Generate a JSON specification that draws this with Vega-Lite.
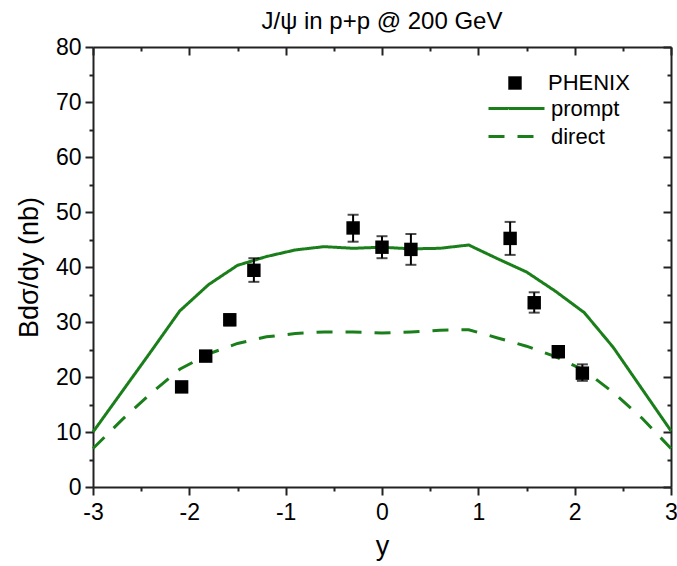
{
  "$schema": "https://vega.github.io/schema/vega-lite/v6.json",
  "width": 578,
  "height": 440,
  "autosize": {"type": "none"},
  "padding": {"left": 93, "top": 47, "right": 6, "bottom": 79},
  "background": "white",
  "config": {"view": {"stroke": null}, "font": "Liberation Sans"},
  "title": {"text": "J/ψ in p+p @ 200 GeV", "fontSize": 24, "fontWeight": "normal", "font": "Liberation Sans", "color": "black", "anchor": "middle", "offset": 2},
  "datasets": {
    "models": [
      {"model": "prompt", "rap": -3, "val": 10},
      {"model": "prompt", "rap": -2.7, "val": 17.3},
      {"model": "prompt", "rap": -2.4, "val": 24.6},
      {"model": "prompt", "rap": -2.1, "val": 32},
      {"model": "prompt", "rap": -1.8, "val": 36.8},
      {"model": "prompt", "rap": -1.5, "val": 40.3},
      {"model": "prompt", "rap": -1.2, "val": 41.9},
      {"model": "prompt", "rap": -0.9, "val": 43.1},
      {"model": "prompt", "rap": -0.6, "val": 43.7},
      {"model": "prompt", "rap": -0.3, "val": 43.4},
      {"model": "prompt", "rap": 0, "val": 43.6},
      {"model": "prompt", "rap": 0.3, "val": 43.3},
      {"model": "prompt", "rap": 0.6, "val": 43.4},
      {"model": "prompt", "rap": 0.9, "val": 44},
      {"model": "prompt", "rap": 1.2, "val": 41.5},
      {"model": "prompt", "rap": 1.5, "val": 39.1},
      {"model": "prompt", "rap": 1.8, "val": 35.6},
      {"model": "prompt", "rap": 2.1, "val": 31.7},
      {"model": "prompt", "rap": 2.4, "val": 25.4},
      {"model": "prompt", "rap": 2.7, "val": 17.8},
      {"model": "prompt", "rap": 3, "val": 10.2},
      {"model": "direct", "rap": -3, "val": 7},
      {"model": "direct", "rap": -2.7, "val": 12.2},
      {"model": "direct", "rap": -2.4, "val": 17},
      {"model": "direct", "rap": -2.1, "val": 21.4},
      {"model": "direct", "rap": -1.8, "val": 24.2},
      {"model": "direct", "rap": -1.5, "val": 26.1},
      {"model": "direct", "rap": -1.2, "val": 27.3},
      {"model": "direct", "rap": -0.9, "val": 27.9},
      {"model": "direct", "rap": -0.6, "val": 28.2},
      {"model": "direct", "rap": -0.3, "val": 28.2},
      {"model": "direct", "rap": 0, "val": 28},
      {"model": "direct", "rap": 0.3, "val": 28.2},
      {"model": "direct", "rap": 0.6, "val": 28.5},
      {"model": "direct", "rap": 0.9, "val": 28.6},
      {"model": "direct", "rap": 1.2, "val": 27.1},
      {"model": "direct", "rap": 1.5, "val": 25.6},
      {"model": "direct", "rap": 1.8, "val": 23.7},
      {"model": "direct", "rap": 2.1, "val": 21.2},
      {"model": "direct", "rap": 2.4, "val": 17.2},
      {"model": "direct", "rap": 2.7, "val": 12.5},
      {"model": "direct", "rap": 3, "val": 7}
    ],
    "phenix": [
      {"obs": "PHENIX", "rap": -2.08, "val": 18.2, "lo": 17.4, "hi": 19.0},
      {"obs": "PHENIX", "rap": -1.83, "val": 23.8, "lo": 22.9, "hi": 24.7},
      {"obs": "PHENIX", "rap": -1.58, "val": 30.4, "lo": 29.4, "hi": 31.4},
      {"obs": "PHENIX", "rap": -1.33, "val": 39.4, "lo": 37.3, "hi": 41.6},
      {"obs": "PHENIX", "rap": -0.3, "val": 47.1, "lo": 44.6, "hi": 49.5},
      {"obs": "PHENIX", "rap": 0, "val": 43.6, "lo": 41.6, "hi": 45.6},
      {"obs": "PHENIX", "rap": 0.3, "val": 43.2, "lo": 40.4, "hi": 46.0},
      {"obs": "PHENIX", "rap": 1.33, "val": 45.2, "lo": 42.2, "hi": 48.2},
      {"obs": "PHENIX", "rap": 1.58, "val": 33.5, "lo": 31.7, "hi": 35.4},
      {"obs": "PHENIX", "rap": 1.83, "val": 24.6, "lo": 23.6, "hi": 25.6},
      {"obs": "PHENIX", "rap": 2.08, "val": 20.7, "lo": 19.3, "hi": 22.3}
    ]
  },
  "layer": [
    {
      "data": {"name": "models"},
      "mark": {"type": "line", "strokeWidth": 3, "color": "#1a7f1a"},
      "encoding": {
        "x": {
          "field": "rap", "type": "quantitative",
          "scale": {"domain": [-3, 3], "nice": false, "zero": false},
          "axis": {
            "orient": "bottom", "grid": false,
            "values": [-3, -2.5, -2, -1.5, -1, -0.5, 0, 0.5, 1, 1.5, 2, 2.5, 3],
            "labelExpr": "datum.value % 1 === 0 ? '' + datum.value : ''",
            "tickSize": {"condition": {"test": "datum.value % 1 === 0", "value": 8}, "value": 4},
            "tickWidth": 2, "tickColor": "#222", "domainColor": "#222", "domainWidth": 2,
            "labelFontSize": 23, "labelFont": "Liberation Sans", "labelColor": "black", "labelPadding": 6, "labelFlush": false, "labelOverlap": false,
            "title": "y", "titleFontSize": 27, "titleFontWeight": "normal", "titleFont": "Liberation Sans", "titleColor": "black", "titlePadding": 9
          }
        },
        "y": {
          "field": "val", "type": "quantitative",
          "scale": {"domain": [0, 80], "nice": false},
          "axis": {
            "orient": "left", "grid": false,
            "values": [0, 5, 10, 15, 20, 25, 30, 35, 40, 45, 50, 55, 60, 65, 70, 75, 80],
            "labelExpr": "datum.value % 10 === 0 ? '' + datum.value : ''",
            "tickSize": {"condition": {"test": "datum.value % 10 === 0", "value": 8}, "value": 4},
            "tickWidth": 2, "tickColor": "#222", "domainColor": "#222", "domainWidth": 2,
            "labelFontSize": 23, "labelFont": "Liberation Sans", "labelColor": "black", "labelPadding": 4, "labelFlush": false, "labelOverlap": false,
            "title": "Bdσ/dy (nb)", "titleFontSize": 27, "titleFontWeight": "normal", "titleFont": "Liberation Sans", "titleColor": "black", "titlePadding": 12
          }
        },
        "strokeDash": {
          "field": "model", "type": "nominal",
          "scale": {"domain": ["prompt", "direct"], "range": [[1, 0], [16, 13]]},
          "legend": {
            "orient": "none", "legendX": 408, "legendY": 46, "title": null, "padding": 0,
            "symbolType": "M-2,0H2", "symbolSize": 784, "symbolStrokeColor": "#1a7f1a", "symbolStrokeWidth": 3, "symbolFillColor": "transparent",
            "labelFontSize": 22, "labelFont": "Liberation Sans", "labelColor": "black", "labelOffset": 19, "rowPadding": 1
          }
        }
      }
    },
    {
      "data": {"name": "phenix"},
      "mark": {"type": "errorbar", "ticks": {"size": 11, "thickness": 2, "color": "black"}, "rule": {"strokeWidth": 2, "color": "black"}},
      "encoding": {
        "x": {"field": "rap", "type": "quantitative", "scale": {"domain": [-3, 3], "nice": false, "zero": false}, "axis": null},
        "y": {"field": "lo", "type": "quantitative", "scale": {"domain": [0, 80], "nice": false}, "axis": null},
        "y2": {"field": "hi"}
      }
    },
    {
      "data": {"name": "phenix"},
      "mark": {"type": "point", "shape": "square", "filled": true, "size": 180, "color": "black", "opacity": 1},
      "encoding": {
        "x": {
          "field": "rap", "type": "quantitative",
          "scale": {"domain": [-3, 3], "nice": false, "zero": false},
          "axis": {
            "orient": "bottom", "offset": -440, "grid": false, "labels": false, "title": null,
            "values": [-3, -2.5, -2, -1.5, -1, -0.5, 0, 0.5, 1, 1.5, 2, 2.5, 3],
            "tickSize": {"condition": {"test": "datum.value % 1 === 0", "value": 8}, "value": 4},
            "tickWidth": 2, "tickColor": "#222", "domainColor": "#222", "domainWidth": 2
          }
        },
        "y": {
          "field": "val", "type": "quantitative",
          "scale": {"domain": [0, 80], "nice": false},
          "axis": {
            "orient": "left", "offset": -578, "grid": false, "labels": false, "title": null,
            "values": [0, 5, 10, 15, 20, 25, 30, 35, 40, 45, 50, 55, 60, 65, 70, 75, 80],
            "tickSize": {"condition": {"test": "datum.value % 10 === 0", "value": 8}, "value": 4},
            "tickWidth": 2, "tickColor": "#222", "domainColor": "#222", "domainWidth": 2
          }
        },
        "shape": {
          "field": "obs", "type": "nominal",
          "scale": {"domain": ["PHENIX"], "range": ["square"]},
          "legend": {
            "orient": "none", "legendX": 411, "legendY": 25, "title": null, "padding": 0,
            "symbolSize": 180, "symbolFillColor": "black", "symbolStrokeColor": "black", "symbolStrokeWidth": 0,
            "labelFontSize": 22, "labelFont": "Liberation Sans", "labelColor": "black", "labelOffset": 22
          }
        }
      }
    },
    {
      "mark": {"type": "rule", "color": "#a03ca0", "strokeWidth": 1.5},
      "encoding": {
        "y": {"datum": 0, "type": "quantitative", "scale": {"domain": [0, 80], "nice": false}, "axis": null}
      }
    }
  ],
  "resolve": {"axis": {"x": "independent", "y": "independent"}}
}
